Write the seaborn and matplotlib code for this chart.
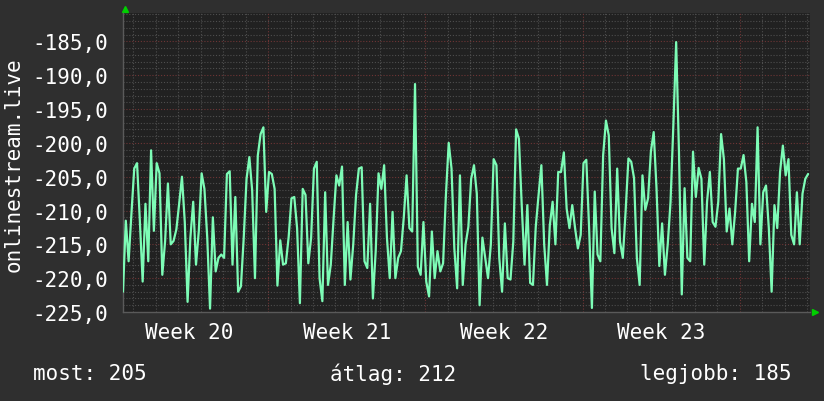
import pandas as pd
import matplotlib
matplotlib.use("Agg")
import matplotlib.pyplot as plt
import seaborn as sns

# ========= 1) DATA =========
start_time = "2023-05-15 13:00"   # ISO week 20 starts Mon 2023-05-15
sample_step = "3h"

values = [
    -222, -211.5, -217.5, -210.5, -203.8, -203.0, -211.5, -220.5, -209, -217.5,
    -201.1, -213, -203, -204.5, -219.5, -214.5, -206, -215, -214.5, -212.8,
    -209, -205, -211.7, -223.5, -214, -208.7, -218, -213, -204.5, -206.8,
    -214, -224.5, -211, -219, -217, -216.5, -217, -204.6, -204.2, -218,
    -208,
    -222, -221.2, -214, -205.3, -202.1, -207, -220, -201.9, -198.7, -197.7,
    -210.2, -204.3, -204.6, -206.8, -221.1, -214.4, -218, -217.8, -213.9, -208.2,
    -208, -212.6, -223.7, -206.8, -207.7, -217.8, -214, -203.8, -202.8, -220,
    -223.4, -207.3, -221, -218, -211.2, -204.8, -206.3, -203.5, -221, -211.7,
    -220.2, -215,
    -207.7, -203.8, -203.6, -217.5, -218.5, -209, -223, -216, -204.5, -206.8,
    -203.3, -214, -220, -210.2, -220, -217, -216, -211, -204.8, -212.6,
    -213.1, -191.3, -218.3, -219.5, -211.7, -220.5, -222.7, -213.1, -220, -216,
    -219, -217.8, -207.7, -200.0, -203.8, -215.6, -221.5, -204.8, -221, -215,
    -212.4, -205.3, -203.3, -207.5, -224, -214, -217, -220, -215, -202.4,
    -203.3, -217, -222, -211.9, -220, -220.2, -214.6, -198, -199.4, -209.2,
    -218, -209.2, -220.7, -221, -212.4, -207.7, -203.3, -215, -221, -212.2,
    -208.7, -215, -204.3, -204.3, -201.4, -209.7, -212.6, -209.2, -212.6, -215.6,
    -213.6, -203,
    -202.5, -212.6, -224.4, -207.2, -216.5, -217.5, -201.8, -196.7, -198.9, -212.6,
    -216.3, -203.8, -214.6, -217, -210.1, -202.3, -202.8, -205.2, -217, -221,
    -204.8, -209.9, -208.2, -201.3, -198.4, -206.7, -218.2, -211.9, -219.5, -215,
    -208.7, -197.4, -185.1, -201.3, -222.4, -206.7, -217, -217.5, -201.3, -208,
    -203.7, -205.3, -218, -208.7, -204.3, -211.7, -212.4, -208.7, -198.7, -202.4,
    -213.1, -209.7, -215, -210.2, -203.8, -203.8, -201.8, -205.8, -217.5, -209,
    -211.7, -197.7, -215, -207.3, -206.3, -212.6, -222, -209.2, -212.6, -204.3,
    -200.4, -204.8, -202.4, -213.6, -215, -207.3, -215, -207.5, -205.3, -204.6,
]

week_labels = ["Week 20", "Week 21", "Week 22", "Week 23"]
week_mids = ["2023-05-18 12:00", "2023-05-25 12:00", "2023-06-01 12:00", "2023-06-08 12:00"]
x_range = ["2023-05-15 13:00", "2023-06-15 03:00"]
y_range = (-225, -180.8)
y_ticks = [-225, -220, -215, -210, -205, -200, -195, -190, -185]
y_title = "onlinestream.live"
summary_now = "most: 205"
summary_avg = "átlag: 212"
summary_best = "legjobb: 185"

# ========= 2) STYLE =========
BG = "#2f2f2f"
PLOT_BG = "#212121"
LINE = "#7dfcb6"
MINOR = "#4e4e4e"
MAJOR = "#6e3535"
ARROW = "#00d000"

sns.set_style("dark")
plt.rcParams["font.family"] = ["DejaVu Sans Mono", "DejaVu Sans"]
plt.rcParams["font.size"] = 15

df = pd.DataFrame({
    "time": pd.date_range(start_time, periods=len(values), freq=sample_step),
    "value": values,
})

fig = plt.figure(figsize=(8.24, 4.02), dpi=100, facecolor=BG)
ax = fig.add_axes([123 / 824, 89 / 402, 687 / 824, 299 / 402])
ax.set_facecolor(PLOT_BG)

x0, x1 = pd.Timestamp(x_range[0]), pd.Timestamp(x_range[1])

# ========= 3) GRID (dotted, rrdtool look) =========
for y in range(int(y_range[0]), int(y_range[1]) + 1):
    ax.axhline(y, color=MAJOR if y % 5 == 0 else MINOR,
               linestyle=(0, (1, 1.6)), linewidth=0.8, zorder=1)
for d in pd.date_range(x0.normalize() + pd.Timedelta(days=1), x1, freq="D"):
    ax.axvline(d, color=MAJOR if d.dayofweek == 0 else MINOR,
               linestyle=(0, (1, 1.6)), linewidth=0.8, zorder=1)

# ========= 4) LINE =========
sns.lineplot(data=df, x="time", y="value", color=LINE, linewidth=1.6, ax=ax, zorder=3)

ax.set_xlim(x0, x1)
ax.set_ylim(*y_range)

ax.set_yticks(y_ticks)
ax.set_yticklabels([f"{v:.1f}".replace(".", ",") for v in y_ticks], color="white")
ax.set_xticks(pd.to_datetime(week_mids))
ax.set_xticklabels(week_labels, color="white")
ax.tick_params(axis="y", length=0, pad=11)
ax.tick_params(axis="x", length=0, pad=7)
ax.set_xlabel("")
ax.set_ylabel("")

for s in ["top", "right"]:
    ax.spines[s].set_visible(False)
for s in ["left", "bottom"]:
    ax.spines[s].set_color("#5a5a5a")
    ax.spines[s].set_linewidth(1)

# axis arrows
ax.plot([0.003], [1.014], marker="^", ms=5, color=ARROW, transform=ax.transAxes, clip_on=False)
ax.plot([1.008], [0.0], marker=">", ms=5, color=ARROW, transform=ax.transAxes, clip_on=False)

# ========= 5) TEXTS =========
fig.text(14 / 824, 1 - 165 / 402, y_title, rotation=90, ha="center", va="center", color="white")
fig.text(33 / 824, 1 - 374 / 402, summary_now, ha="left", va="center", color="white")
fig.text(393 / 824, 1 - 374 / 402, summary_avg, ha="center", va="center", color="white")
fig.text(791 / 824, 1 - 374 / 402, summary_best, ha="right", va="center", color="white")

fig.savefig("out.png", dpi=100, facecolor=BG)
